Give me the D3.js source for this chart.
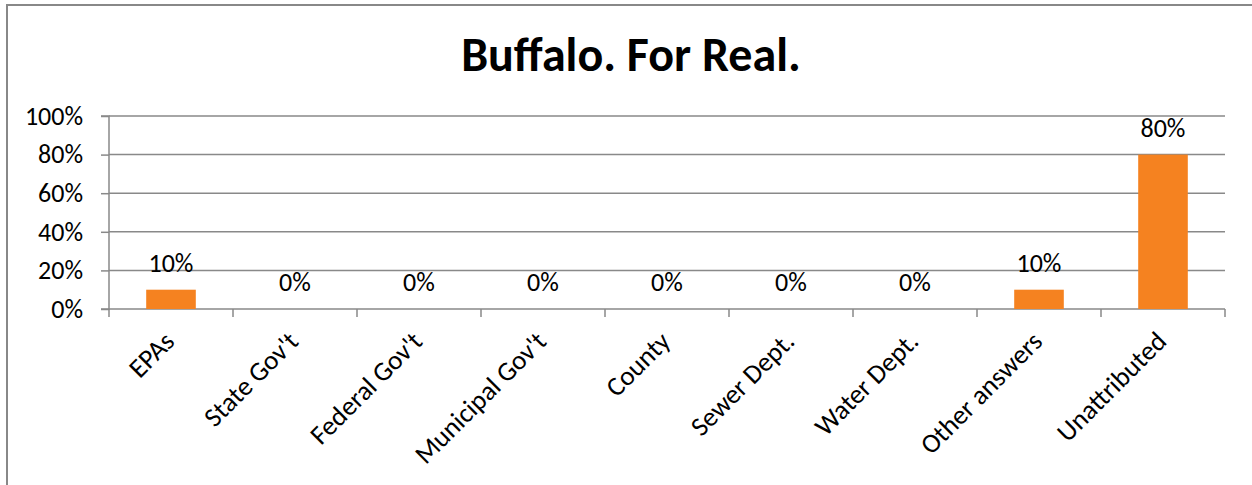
<!DOCTYPE html>
<html>
<head>
<meta charset="utf-8">
<script src="https://cdn.jsdelivr.net/npm/d3@7"></script>
<style>
  html, body { margin: 0; padding: 0; background: #fff; }
  svg { display: block; font-family: Carlito, Calibri, "Open Sans", sans-serif; }
</style>
</head>
<body>
<svg id="chart" width="1252" height="485"></svg>
<script>
const title = "Buffalo. For Real.";
const categories = ["EPAs", "State Gov't", "Federal Gov't", "Municipal Gov't", "County", "Sewer Dept.", "Water Dept.", "Other answers", "Unattributed"];
const values = [0.10, 0, 0, 0, 0, 0, 0, 0.10, 0.80];
const yTicks = [0, 0.2, 0.4, 0.6, 0.8, 1.0];

const svg = d3.select("#chart");
const W = 1252, H = 485;
const plot = { left: 109, right: 1225, top: 116, bottom: 309 };
const grid = "#898989";
const fs = 26;

// chart border
svg.append("rect")
  .attr("x", 7).attr("y", 5).attr("width", W + 20).attr("height", H + 20)
  .attr("fill", "#fff").attr("stroke", "#888").attr("stroke-width", 2);

// title
svg.append("text")
  .attr("x", 631).attr("y", 71)
  .attr("text-anchor", "middle")
  .attr("font-weight", "bold")
  .attr("font-size", 48)
  .attr("fill", "#000")
  .text(title);

const x = d3.scaleBand().domain(categories)
  .range([plot.left, plot.right]).paddingInner(0.6).paddingOuter(0.3);
const y = d3.scaleLinear().domain([0, 1]).range([plot.bottom, plot.top]);

// gridlines
svg.append("g").selectAll("line").data(yTicks.filter(d => d > 0)).join("line")
  .attr("x1", plot.left).attr("x2", plot.right)
  .attr("y1", d => y(d)).attr("y2", d => y(d))
  .attr("stroke", grid).attr("stroke-width", 1.5);

// y axis
const yAxis = d3.axisLeft(y).tickValues(yTicks).tickSize(8).tickPadding(18)
  .tickFormat(d3.format(".0%"));
const gy = svg.append("g").attr("transform", `translate(${plot.left},0)`).call(yAxis);
gy.select(".domain").attr("stroke", grid).attr("stroke-width", 1.5).attr("d", `M-8,${plot.top}H0V${plot.bottom}H-8`);
gy.selectAll(".tick line").attr("stroke", grid).attr("stroke-width", 1.5);
gy.selectAll(".tick text").attr("font-size", fs).attr("fill", "#000")
  .attr("font-family", 'Carlito, Calibri, "Open Sans", sans-serif');

// x axis line + ticks at band boundaries
const step = x.step();
const bounds = d3.range(categories.length + 1).map(i => plot.left + i * step);
svg.append("line").attr("x1", plot.left).attr("x2", plot.right)
  .attr("y1", plot.bottom).attr("y2", plot.bottom)
  .attr("stroke", grid).attr("stroke-width", 1.5);
svg.append("g").selectAll("line").data(bounds).join("line")
  .attr("x1", d => d).attr("x2", d => d)
  .attr("y1", plot.bottom).attr("y2", plot.bottom + 8)
  .attr("stroke", grid).attr("stroke-width", 1.5);

// bars
svg.append("g").selectAll("rect").data(values).join("rect")
  .attr("x", (d, i) => x(categories[i]))
  .attr("width", x.bandwidth())
  .attr("y", d => y(d))
  .attr("height", d => y(0) - y(d))
  .attr("fill", "#F58220");

// data labels
svg.append("g").selectAll("text").data(values).join("text")
  .attr("x", (d, i) => x(categories[i]) + x.bandwidth() / 2)
  .attr("y", d => y(d) - 18)
  .attr("text-anchor", "middle")
  .attr("font-size", fs)
  .attr("fill", "#000")
  .text(d => d3.format(".0%")(d));

// category labels, rotated -45
svg.append("g").selectAll("text").data(categories).join("text")
  .attr("text-anchor", "end")
  .attr("font-size", 27)
  .attr("fill", "#000")
  .attr("transform", d => `translate(${x(d) + x.bandwidth() / 2 + 5},${plot.bottom + 34}) rotate(-45)`)
  .text(d => d);
</script>
</body>
</html>
